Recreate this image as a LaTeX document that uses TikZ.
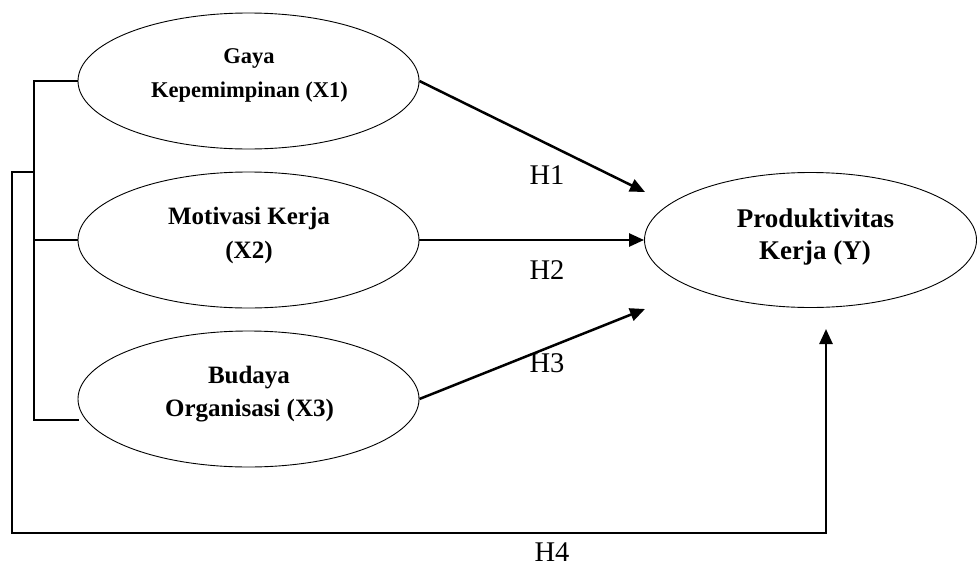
\documentclass[tikz,border=0pt]{standalone}
\usepackage{fontspec}
\setmainfont{Liberation Serif}
\usetikzlibrary{shapes.geometric,arrows.meta}
\begin{document}
\begin{tikzpicture}[x=1pt,y=-1pt,
  latent/.style={ellipse,draw,line width=0.9pt,inner sep=0pt,minimum width=341pt,minimum height=136pt},
  conn/.style={line width=2.2pt,line join=miter},
  arr/.style={line width=2.5pt,line join=miter,-{Triangle[length=15pt,width=13pt]}},
  lbl/.style={font=\fontsize{28.5}{31}\selectfont,inner sep=0pt},
  tA/.style={font=\fontsize{22.5}{26}\selectfont\bfseries,inner sep=0pt,anchor=base},
  tB/.style={font=\fontsize{25}{28}\selectfont\bfseries,inner sep=0pt,anchor=base},
  tC/.style={font=\fontsize{27}{30}\selectfont\bfseries,inner sep=0pt,anchor=base}
]
\useasboundingbox (0,0) rectangle (977,565);

% latent variables
\node[latent] (X1) at (248.5,81) {};
\node[latent] (X2) at (248.5,240) {};
\node[latent] (X3) at (248.5,399) {};
\node[latent,minimum width=332pt,minimum height=135pt] (Y) at (810.5,240) {};

% texts
\node[tA] (X1a) at (249,63) {Gaya};
\node[tA] (X1b) at (249.5,97) {Kepemimpinan (X1)};
\node[tB] (X2a) at (249,224) {Motivasi Kerja};
\node[tB] (X2b) at (249,258) {(X2)};
\node[tB] (X3a) at (249,383) {Budaya};
\node[tB] (X3b) at (249.5,416) {Organisasi (X3)};
\node[tC] (Ya) at (815.5,227) {Produktivitas};
\node[tC] (Yb) at (815,259) {Kerja (Y)};

% direct paths
\coordinate (h1tip) at (645,192);
\coordinate (h3tip) at (645,309);
\draw[arr] (X1.east) -- (h1tip);
\draw[arr] (X2.east) -- (Y.west);
\draw[arr] (X3.east) -- (h3tip);

% bracket
\coordinate (bb) at (34,420);
\coordinate (X3low) at (79,420);
\draw[conn] (X1.west) -| (bb) -- (X3low);
\draw[conn] (X2.west) -- (X2.west -| bb);

% simultaneous path
\coordinate (oa) at (34,172);
\coordinate (ob) at (12,533);
\coordinate (h4tip) at (826,329);
\draw[arr] (oa) -- (oa -| ob) -- (ob) -| (h4tip);

% labels
\node[lbl] (H1) at (547,175) {H1};
\node[lbl] (H2) at (547,270) {H2};
\node[lbl] (H3) at (547,363) {H3};
\node[lbl] (H4) at (552,552) {H4};
\end{tikzpicture}
\end{document}
